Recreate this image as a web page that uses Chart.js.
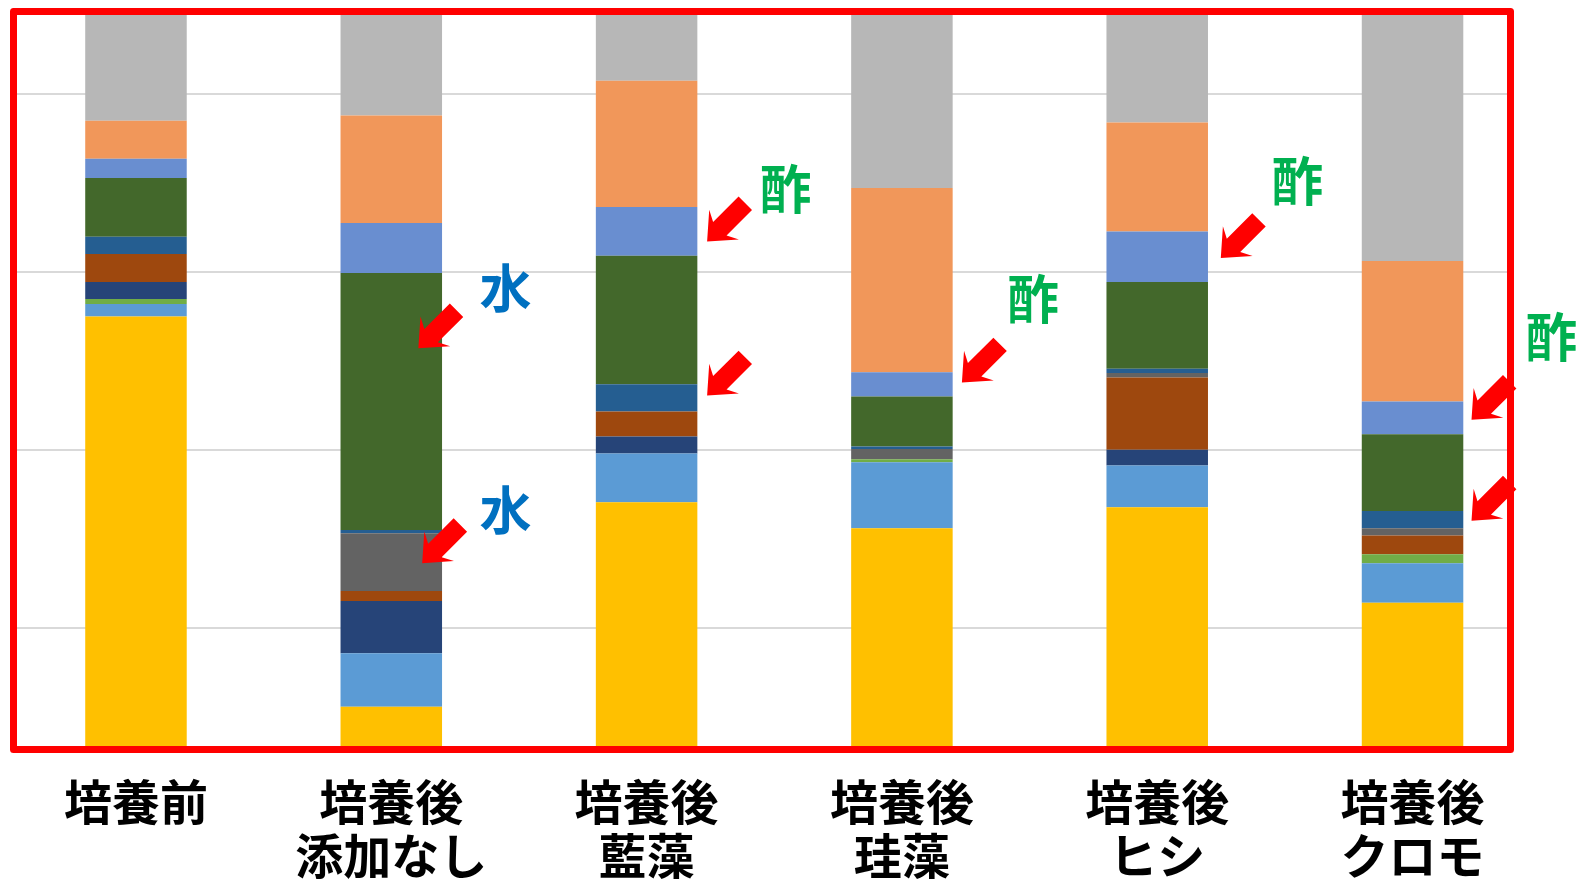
<!DOCTYPE html>
<html>
<head>
<meta charset="utf-8">
<script src="https://cdn.jsdelivr.net/npm/chart.js@4.4.1/dist/chart.umd.min.js"></script>
<style>
html, body { margin: 0; padding: 0; background: #ffffff; }
#wrap { width: 1578px; height: 882px; }
</style>
</head>
<body>
<div id="wrap"><canvas id="c" width="1578" height="882"></canvas></div>
<script>
// ---- data (percent of community, stacked bottom -> top) ----
const categories = [["培養前"], ["培養後", "添加なし"], ["培養後", "藍藻"], ["培養後", "珪藻"], ["培養後", "ヒシ"], ["培養後", "クロモ"]];
const yellowSeries    = [54.98, 11.16, 34.12, 31.20, 33.56, 22.84];
const lightBlueSeries = [1.39, 6.00, 5.46, 7.42, 4.67, 4.43];
const greenSeries     = [0.56, 0, 0, 0.33, 0, 1.01];
const navySeries      = [1.91, 5.87, 1.91, 0, 1.77, 0];
const brownSeries     = [3.15, 1.13, 2.81, 0, 8.12, 2.09];
const darkGraySeries  = [0, 6.48, 0, 1.16, 0.50, 0.83];
const darkBlueSeries  = [1.94, 0.37, 3.08, 0.26, 0.48, 1.94];
const darkGreenSeries = [6.60, 28.84, 14.42, 5.62, 9.74, 8.62];
const midBlueSeries   = [2.17, 5.62, 5.47, 2.74, 5.69, 3.67];
const orangeSeries    = [4.26, 12.09, 14.19, 20.67, 12.24, 15.77];
const graySeries      = [23.04, 22.44, 18.54, 30.60, 23.23, 38.80];
const yGridTicks = [20, 40, 60, 80];

// annotations: bar index, value on the y scale, offset in bar units
const arrowNotes = [
  { bar: 1, value: 51.40, off: 0.106 },
  { bar: 1, value: 27.27, off: 0.121 },
  { bar: 2, value: 63.40, off: 0.237 },
  { bar: 2, value: 46.10, off: 0.237 },
  { bar: 3, value: 47.56, off: 0.235 },
  { bar: 4, value: 61.54, off: 0.249 },
  { bar: 5, value: 43.37, off: 0.231 },
  { bar: 5, value: 32.05, off: 0.231 }
];
const textNotes = [
  { bar: 1, value: 58.2, off: 0.447, text: "水", color: "#0070C0" },
  { bar: 1, value: 33.26, off: 0.447, text: "水", color: "#0070C0" },
  { bar: 2, value: 69.32, off: 0.544, text: "酢", color: "#00B050" },
  { bar: 3, value: 56.96, off: 0.513, text: "酢", color: "#00B050" },
  { bar: 4, value: 70.22, off: 0.548, text: "酢", color: "#00B050" },
  { bar: 5, value: 52.70, off: 0.543, text: "酢", color: "#00B050" }
];

const FONT = "'Noto Sans CJK JP', 'Noto Sans', sans-serif";

const seriesDefs = [
  ["系列A", yellowSeries, "#FFC000"],
  ["系列B", lightBlueSeries, "#5B9BD5"],
  ["系列C", greenSeries, "#70AD47"],
  ["系列D", navySeries, "#264478"],
  ["系列E", brownSeries, "#9E480E"],
  ["系列F", darkGraySeries, "#636363"],
  ["系列G", darkBlueSeries, "#255E91"],
  ["系列H", darkGreenSeries, "#43682B"],
  ["系列I", midBlueSeries, "#698ED0"],
  ["系列J", orangeSeries, "#F1975A"],
  ["系列K", graySeries, "#B7B7B7"]
];

const annotPlugin = {
  id: 'annot',
  afterDraw(chart) {
    const ctx = chart.ctx, xs = chart.scales.x, ys = chart.scales.y, a = chart.chartArea;
    ctx.save();
    // red frame around plot area
    ctx.strokeStyle = '#FF0000';
    ctx.lineWidth = 7;
    ctx.lineJoin = 'round';
    ctx.strokeRect(a.left - 3.5, a.top - 3.5, a.right - a.left + 7, a.bottom - a.top + 7);
    // arrows (pointing down-left)
    const shape = [[0,0],[24,-21],[18,-9.5],[54,-9.5],[54,9.5],[18,9.5],[24,21]];
    const r = Math.SQRT1_2;
    ctx.fillStyle = '#FF0000';
    arrowNotes.forEach(n => {
      const tx = xs.getPixelForValue(n.bar + n.off);
      const ty = ys.getPixelForValue(n.value);
      ctx.beginPath();
      shape.forEach(([u, v], i) => {
        const px = tx + (u + v) * r;
        const py = ty + (-u + v) * r;
        if (i === 0) ctx.moveTo(px, py); else ctx.lineTo(px, py);
      });
      ctx.closePath();
      ctx.fill();
    });
    // texts
    ctx.font = "bold 52px " + FONT;
    ctx.textAlign = 'center';
    ctx.textBaseline = 'middle';
    textNotes.forEach(n => {
      ctx.fillStyle = n.color;
      ctx.fillText(n.text, xs.getPixelForValue(n.bar + n.off), ys.getPixelForValue(n.value));
    });
    ctx.restore();
  }
};

new Chart(document.getElementById('c'), {
  type: 'bar',
  data: {
    labels: categories.map((_, i) => i),
    datasets: seriesDefs.map(([name, values, color]) => ({
      label: name,
      data: values,
      backgroundColor: color,
      borderWidth: 0,
      categoryPercentage: 1.0,
      barPercentage: 0.3976
    }))
  },
  options: {
    responsive: false,
    animation: false,
    devicePixelRatio: 1,
    layout: { padding: { left: 17, right: 71, top: 15, bottom: -30 } },
    plugins: { legend: { display: false }, tooltip: { enabled: false } },
    scales: {
      x: {
        type: 'linear',
        stacked: true,
        offset: false,
        min: -0.466,
        max: 5.370,
        afterBuildTicks: (s) => { s.ticks = categories.map((_, i) => ({ value: i })); },
        grid: { display: false, drawTicks: false },
        border: { display: false },
        ticks: {
          autoSkip: false,
          maxRotation: 0,
          minRotation: 0,
          padding: 29,
          color: '#000000',
          font: { family: FONT, size: 48, weight: 'bold', lineHeight: 1.125 },
          callback: (v) => categories[v]
        }
      },
      y: {
        stacked: true,
        min: 6.74,
        max: 88.84,
        afterBuildTicks: (s) => { s.ticks = yGridTicks.map(v => ({ value: v })); },
        grid: { color: '#d9d9d9', lineWidth: 2, drawTicks: false },
        border: { display: false },
        ticks: { display: false }
      }
    }
  },
  plugins: [annotPlugin]
});
</script>
</body>
</html>
